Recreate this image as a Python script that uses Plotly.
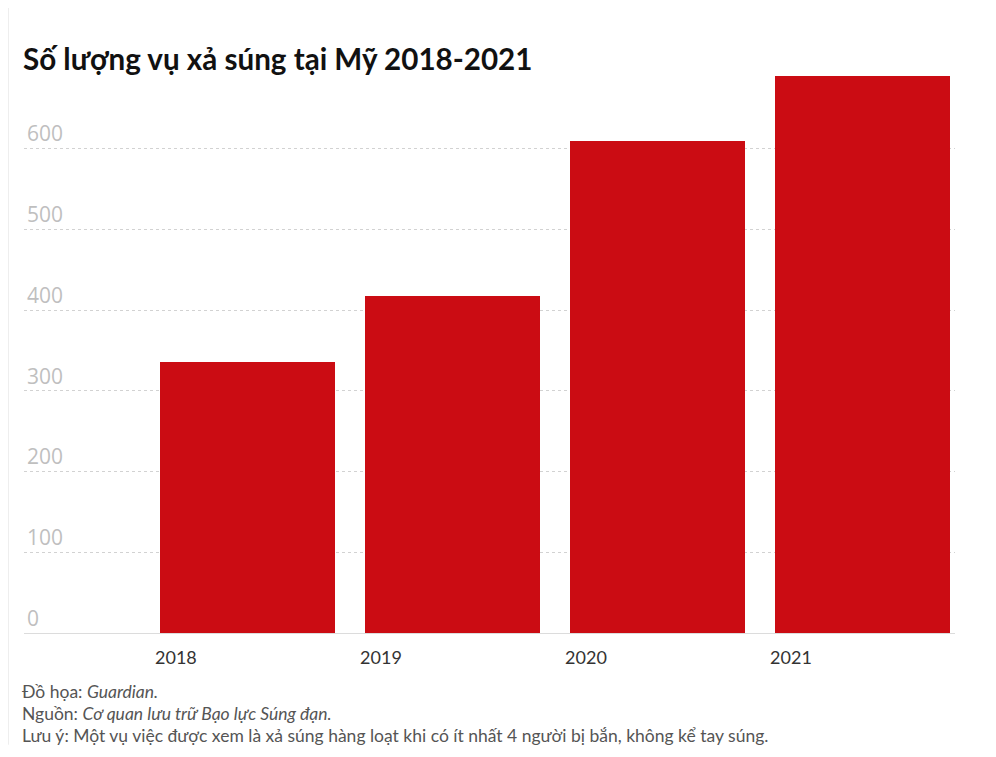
import plotly.graph_objects as go

years = ["2018", "2019", "2020", "2021"]
shootings = [336, 417, 610, 690]
y_ticks = [0, 100, 200, 300, 400, 500, 600]

title_text = "Số lượng vụ xả súng tại Mỹ 2018-2021"
notes = [
    "Đồ họa: <i>Guardian.</i>",
    "Nguồn: <i>Cơ quan lưu trữ Bạo lực Súng đạn.</i>",
    "Lưu ý: Một vụ việc được xem là xả súng hàng loạt khi có ít nhất 4 người bị bắn, không kể tay súng.",
]

OFF = 8  # page margin offset of the browser
W, H = 996 - OFF, 757 - OFF
# plot area in page pixels: x 24..955, y 68.4..633.3
L = 24 - OFF
R = (OFF + W) - 955
T = 68.4 - OFF
B = (OFF + H) - 633.3
plot_w = W - L - R
plot_h = H - T - B


def px_x(x):
    return (x - OFF - L) / plot_w


def px_y(y):
    return (H - B - (y - OFF)) / plot_h


fig = go.Figure()
fig.add_trace(go.Bar(
    x=years, y=shootings,
    marker=dict(color="#cb0c13", line=dict(width=0)),
    width=0.854, offset=-0.08,
    hoverinfo="x+y",
))

fig.update_layout(
    width=W, height=H,
    margin=dict(l=L, r=R, t=T, b=B, autoexpand=False),
    paper_bgcolor="white", plot_bgcolor="white",
    showlegend=False,
    font=dict(family="Lato, Open Sans, sans-serif", color="#333"),
    xaxis=dict(
        type="category", range=[-0.741, 3.8],
        showgrid=False, zeroline=False, showline=True,
        linecolor="#dcdcdc", linewidth=1,
        ticks="", ticklabelstandoff=8,
        tickfont=dict(family="Lato, sans-serif", size=18, color="#333"),
    ),
    yaxis=dict(
        range=[0, 700], tickvals=y_ticks,
        showgrid=True, gridcolor="#d2d2d2", griddash="dot", gridwidth=1,
        zeroline=False, showline=False, ticks="",
        ticklabelposition="inside top", ticklabelstandoff=0,
        tickfont=dict(family="Open Sans, sans-serif", size=21, color="#bfbfbf"),
    ),
    bargap=0,
)

# title
fig.add_annotation(
    text="<b>" + title_text + "</b>", xref="paper", yref="paper",
    x=px_x(21), y=px_y(59),
    xanchor="left", yanchor="middle", showarrow=False,
    font=dict(family="Lato, sans-serif", size=29.6, color="#111"),
)

# footer notes
for i, t in enumerate(notes):
    yc = 692 + 22 * i
    fig.add_annotation(
        text=t, xref="paper", yref="paper",
        x=px_x(20), y=px_y(yc),
        xanchor="left", yanchor="middle", showarrow=False,
        font=dict(family="Lato, sans-serif", size=17.5, color="#555"),
    )

# left border line
fig.add_shape(
    type="line", xref="paper", yref="paper",
    x0=px_x(8), x1=px_x(8),
    y0=px_y(745), y1=px_y(OFF),
    line=dict(color="#dddddd", width=1),
)

fig.write_html("out.html")
